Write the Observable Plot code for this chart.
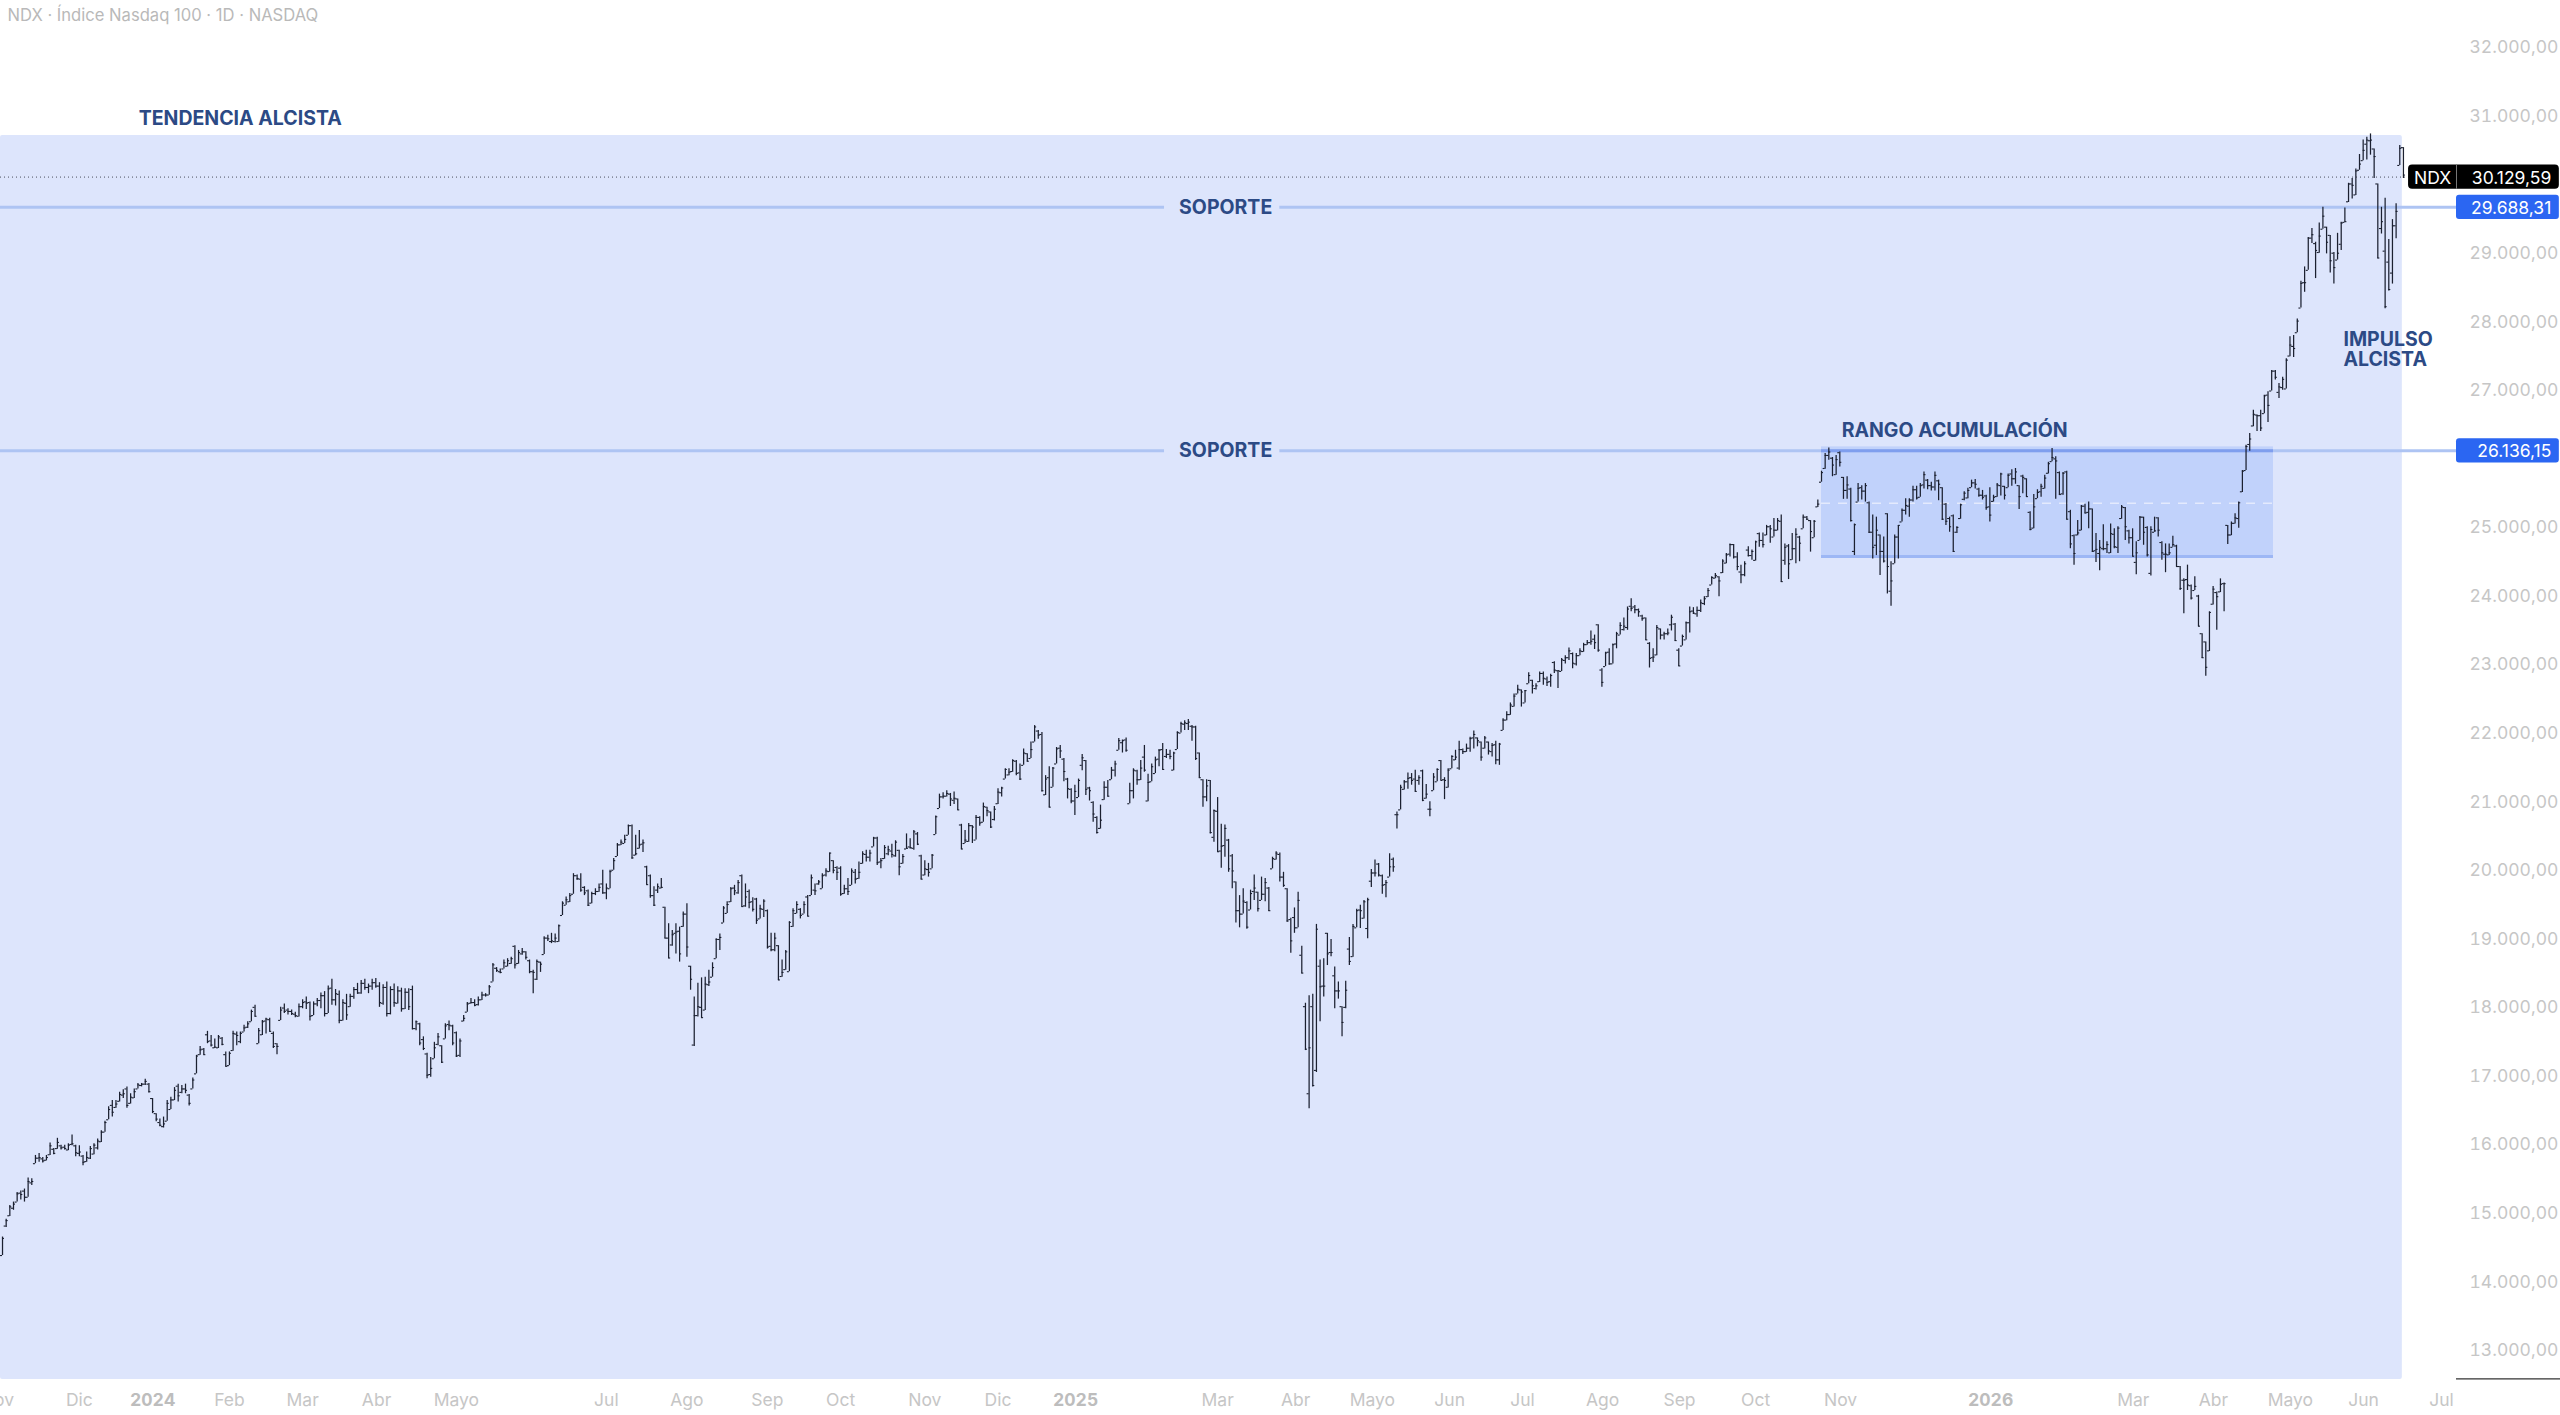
<!DOCTYPE html>
<html lang="es">
<head>
<meta charset="utf-8">
<script src="https://cdn.jsdelivr.net/npm/d3@7"></script>
<script src="https://cdn.jsdelivr.net/npm/@observablehq/plot@0.6"></script>
<style>html,body{margin:0;padding:0;background:#fff;overflow:hidden}svg{display:block}</style>
</head>
<body>
<div id="chart"></div>
<script>
// Daily bars as [open, high, low, close].
const late2023 = [[14370,14640,14370,14620],[14800,14900,14780,14880],[14950,15100,14940,15080],[15060,15150,15030,15120],[15150,15290,15150,15270],[15280,15310,15180,15260],[15310,15340,15150,15220],[15220,15500,15220,15450],[15430,15490,15390,15450],[15710,15830,15710,15790],[15790,15860,15730,15800],[15780,15800,15720,15750],[15760,15830,15750,15800],[15840,16010,15830,15970],[15920,15930,15840,15860],[15930,16080,15920,16020],[15970,15980,15910,15940],[15950,15980,15910,15930],[15910,16000,15900,15980],[15990,16130,15970,16000],[15970,15980,15810,15870],[15860,15970,15810,15880],[15820,15830,15680,15730],[15740,15880,15730,15800],[15790,15960,15770,15930],[15850,16000,15840,15980],[15940,16070,15910,16040],[16030,16190,16020,16170],[16170,16330,16170,16310],[16350,16540,16350,16500],[16560,16630,16390,16460],[16530,16630,16520,16580],[16620,16750,16610,16720],[16710,16790,16660,16730],[16800,16830,16520,16560],[16590,16730,16580,16680],[16670,16800,16660,16760],[16800,16880,16800,16860],[16850,16880,16830,16870],[16870,16940,16850,16910],[16870,16880,16740,16760]];
const early2024 = [[16660,16660,16440,16470],[16440,16440,16320,16360],[16310,16360,16250,16270],[16250,16390,16230,16290],[16330,16630,16330,16590],[16500,16680,16500,16640],[16640,16820,16630,16780],[16840,16870,16610,16700],[16750,16850,16730,16800],[16800,16870,16730,16780],[16710,16720,16550,16590],[16800,16960,16800,16930],[17020,17290,17020,17280],[17300,17420,17290,17370],[17380,17390,17290,17300],[17590,17640,17460,17490],[17500,17580,17410,17440],[17400,17530,17390,17410],[17400,17580,17390,17560],[17540,17550,17430,17450],[17300,17340,17120,17130],[17140,17340,17140,17320],[17360,17640,17350,17610],[17600,17630,17430,17580],[17490,17630,17460,17610],[17630,17730,17630,17690],[17700,17780,17680,17750],[17780,17950,17780,17930],[17990,18020,17850,17860],[17460,17680,17460,17650],[17590,17800,17580,17780],[17790,17830,17600,17820],[17810,17830,17630,17640],[17610,17630,17390,17420],[17460,17460,17300,17420],[17800,17990,17800,17950],[17980,18040,17900,17930],[17950,17970,17880,17930],[17930,17950,17870,17900],[17890,17920,17840,17870],[17860,18040,17850,18000],[18000,18100,17970,18060],[18070,18140,17960,18050],[18060,18070,17790,17860],[17870,18070,17870,18040],[18040,18120,18000,18090],[18090,18200,17970,18160],[18160,18220,17850,17900],[17900,18300,17900,18260],[18270,18400,18020,18100],[18100,18250,18010,18190],[18180,18230,17750,17800],[17800,18100,17790,18060],[18050,18180,17800,17880],[18000,18180,17990,18150],[18150,18280,18110,18250],[18250,18340,18180,18200],[18200,18380,18180,18340],[18340,18400,18240,18280],[18280,18330,18190,18300],[18300,18400,18240,18350],[18350,18410,18270,18300],[18300,18350,17990,18060],[18050,18320,18020,18280],[18280,18360,17850,17900],[17900,18290,17880,18250],[18250,18330,17990,18060],[18050,18290,18040,18230],[18230,18270,17920,17970],[17970,18260,17960,18210],[18210,18260,17945,18000],[18250,18300,17660,17680],[17680,17790,17650,17780],[17750,17760,17430,17470],[17520,17560,17360,17390],[17310,17320,16950,17000],[17010,17260,16970,17100],[17240,17480,17240,17400],[17450,17610,17430,17560],[17430,17430,17170,17190],[17530,17750,17530,17720],[17740,17790,17650,17730],[17720,17730,17430,17470],[17620,17630,17260,17280],[17290,17530,17260,17500],[17790,17870,17780,17830],[17920,18060,17920,18040],[18050,18120,18040,18060]];
const mid2024 = [[18060,18100,18000,18020],[18030,18140,18010,18100],[18100,18210,18090,18170],[18170,18190,18140,18170],[18170,18310,18165,18290],[18360,18630,18360,18610],[18560,18570,18500,18530],[18510,18550,18480,18500],[18550,18680,18550,18640],[18590,18700,18580,18670],[18630,18720,18620,18700],[18880,18890,18550,18610],[18630,18820,18620,18790],[18770,18850,18750,18800],[18800,18800,18680,18720],[18670,18680,18480,18510],[18510,18530,18190,18500],[18400,18680,18380,18660],[18650,18650,18500,18620],[18760,19020,18760,19000],[19000,19040,18950,18990],[18950,19070,18920,18960],[18950,19060,18930,19000],[18950,19190,18940,19180],[19330,19530,19330,19510],[19480,19600,19480,19560],[19530,19650,19520,19620],[19640,19940,19640,19910],[19910,19920,19840,19870],[19860,19940,19670,19700],[19740,19750,19620,19660],[19690,19700,19460,19480],[19510,19670,19500,19650],[19650,19720,19620,19680],[19680,19790,19670,19740],[19790,19990,19640,19660],[19660,19790,19560,19730],[19720,19990,19720,19970],[19990,20160,19990,20130],[20190,20380,20190,20360],[20360,20430,20350,20400],[20380,20500,20380,20440],[20500,20650,20500,20640],[20640,20650,20150,20170],[20210,20500,20200,20230],[20310,20570,20300,20360],[20370,20430,20250,20390],[20040,20050,19770,19780],[19910,19920,19580,19620],[19620,19750,19460,19480],[19700,19790,19650,19750],[19730,19870,19720,19740],[19450,19450,18990,19000],[19000,19210,18700,18710],[18900,19110,18880,19050],[19070,19210,18770,19090],[19100,19160,18650,18770],[19170,19380,19160,19350],[19350,19500,18720,18870],[18590,18590,18240,18400],[17440,18140,17420,17870],[17870,18340,17850,18000],[17990,18420,17830,17840],[17950,18430,17945,18330],[18320,18530,18295,18360],[18430,18640,18430,18570],[18700,18990,18700,18980],[18980,19060,18820,19010],[19220,19460,19220,19440],[19360,19530,19360,19490],[19530,19740,19520,19720],[19730,19770,19620,19690],[19660,19840,19640,19810],[19910,19920,19450,19460],[19470,19790,19450,19600],[19680,19700,19430,19520],[19530,19590,19380,19420],[19570,19580,19200,19260],[19280,19480,19280,19430],[19420,19560,19300,19540],[19400,19410,18840,18870],[18880,19070,18800,18830],[18830,19070,18800,19000],[18890,18890,18380,18390],[18440,18680,18430,18500],[18540,18820,18530,18800],[18510,19240,18510,19230],[19170,19430,19160,19400],[19360,19530,19355,19490],[19420,19430,19280,19330],[19350,19530,19350,19490],[19600,19620,19310,19320],[19620,19920,19620,19880],[19700,19790,19620,19690],[19790,19840,19770,19820],[19720,19940,19720,19910],[19920,20010,19890,19980],[19970,20240,19960,20240],[20130,20130,19940,19990],[20030,20040,19840,19960],[20020,20040,19610,19640],[19650,19770,19640,19720],[19720,19870,19620,19680],[19770,20010,19770,19980],[19960,20000,19790,19860],[19870,20110,19860,19960]];
const late2024 = [[20090,20260,20080,20230],[20220,20280,20110,20180],[20180,20280,20110,20240],[20330,20470,20330,20460],[20460,20470,20060,20100],[20110,20160,20010,20130],[20160,20350,20150,20320],[20230,20340,20200,20290],[20270,20370,20170,20220],[20200,20420,20180,20400],[20280,20280,19910,20040],[20090,20220,20080,20190],[20300,20520,20300,20310],[20330,20450,20300,20320],[20310,20570,20280,20550],[20520,20540,20350,20370],[20200,20210,19850,19860],[19920,20130,19910,20010],[20000,20090,19890,19960],[20010,20220,20010,20210],[20510,20780,20510,20770],[20890,21100,20890,21060],[21060,21120,21030,21070],[21070,21150,21060,21110],[21100,21110,20920,21030],[21010,21130,20950,21040],[21030,21030,20860,20870],[20650,20660,20290,20300],[20380,20570,20380,20430],[20410,20670,20400,20640],[20640,20640,20380,20620],[20430,20790,20430,20760],[20760,20770,20630,20680],[20690,20970,20690,20920],[20910,20910,20770,20860],[20840,20840,20600,20620],[20730,20920,20710,20880],[20960,21180,20950,21130],[21120,21200,21060,21190],[21320,21470,21320,21460],[21380,21470,21370,21420],[21430,21600,21420,21590],[21580,21590,21370,21400],[21410,21540,21300,21320],[21520,21760,21520,21700],[21690,21690,21570,21580],[21620,21860,21620,21750],[21860,22100,21860,22080],[22020,22030,21900,21960],[21970,22000,21130,21150],[21090,21370,21080,21320],[21340,21500,20900,20910],[21200,21490,21200,21480]];
const early2025 = [[21540,21780,21540,21760],[21770,21810,21620,21730],[21610,21620,21280,21430],[21320,21330,21030,21180],[21170,21180,20960,21000],[21000,21230,20790,21140],[21050,21320,21050,21300],[21520,21680,21440,21630],[21590,21590,21080,21170],[21190,21200,21000,21150],[20980,20990,20690,20810],[20760,20770,20520,20540],[20600,20940,20590,20720],[21020,21280,21010,21200],[21200,21300,21060,21070],[21310,21490,21310,21450],[21450,21580,21350,21540],[21740,21910,21740,21880],[21850,21890,21700,21880],[21890,21920,21710,21740],[20960,21260,20960,21150],[21150,21470,21030,21450],[21440,21450,21230,21310],[21310,21590,21300,21480],[21640,21810,21420,21450],[21000,21390,20990,21270],[21280,21540,21280,21500],[21400,21640,21400,21600],[21610,21750,21500,21740],[21750,21840,21450,21460],[21650,21750,21620,21680],[21680,21740,21600,21650],[21450,21710,21440,21700],[21750,22010,21750,22000],[21990,22150,21990,22130],[22120,22170,22030,22140],[22130,22190,22030,22150],[22090,22100,21870,22080],[22080,22090,21590,21620],[21700,21700,21330,21340],[21310,21310,20910,21060],[21060,21310,20990,21220],[21300,21300,20520,20540],[20470,20870,20400,20860],[20850,21050,20250,20260],[20270,20660,20020,20340],[20350,20650,20180,20600],[20430,20440,19960,20010],[20200,20220,19720,19980],[19820,19820,19220,19400],[19400,19620,19150,19350],[19350,19720,19350,19540],[19520,19530,19130,19160],[19410,19700,19410,19650],[19680,19920,19550,19730],[19670,19670,19380,19430],[19550,19890,19550,19640],[19640,19870,19530,19810],[19730,19740,19390,19400],[20010,20180,20010,20160],[20150,20260,20140,20240],[20220,20240,19820,19890],[19890,19960,19740,19770],[19720,19720,19230,19250],[19270,19290,18780,18960],[19300,19440,19070,19150],[19150,19670,19150,19550],[18750,18880,18480,18490],[18000,18050,17360,17380],[16730,18160,16510,17400],[18000,18180,16830,16850],[17070,19200,17040,19130],[18590,18680,17780,18290],[18300,18700,18140,18300],[19070,19070,18600,18770],[18790,18980,18730,18790],[18450,18580,17970,18230],[18230,18360,18110,18230],[18000,18000,17560,17770],[17990,18370,17970,18240],[18840,19010,18600,18660],[18730,19200,18720,19170],[19150,19420,19150,19400],[19410,19480,19140,19400],[19290,19550,19280,19530],[19140,19580,18990,19560],[19830,20000,19740,19950],[19950,20140,19890,19950],[20080,20090,19890,19920],[19910,19920,19640,19770],[19780,19840,19590,19810],[19890,20230,19890,20040],[20150,20170,19960,20040],[20800,20840,20590,20800],[20870,21230,20870,21200],[21170,21300,21160,21280],[21280,21410,21170,21330],[21340,21400,21230,21300],[21320,21450,21130,21140],[21300,21370,21230,21340],[21440,21450,20990,21010],[21040,21240,21030,21100],[20880,20990,20770,20880],[21150,21400,21150,21350],[21280,21470,21280,21460],[21590,21590,21300,21300],[21310,21340,21020,21300],[21200,21470,21190,21450],[21470,21660,21470,21650],[21600,21740,21590,21640],[21480,21870,21450,21750],[21750,21760,21680,21720],[21720,21830,21710,21770],[21770,21930,21710,21910],[21920,22020,21760,21970],[21920,21920,21790,21880],[21860,21860,21580,21640],[21770,21940,21760,21920],[21860,21860,21670,21730],[21720,21840,21640,21810],[21820,21870,21530,21600],[21600,21840,21520,21830]];
const late2025 = [[22030,22200,22030,22180],[22180,22300,22170,22260],[22260,22430,22250,22400],[22380,22560,22370,22530],[22560,22690,22560,22630],[22620,22620,22370,22590],[22430,22610,22430,22610],[22710,22870,22710,22830],[22760,22760,22560,22680],[22640,22710,22620,22680],[22740,22880,22730,22860],[22860,22880,22690,22790],[22780,22810,22670,22730],[22740,22850,22660,22830],[23020,23030,22860,22910],[22900,22900,22640,22900],[22890,23080,22890,23060],[23050,23120,23000,23090],[23090,23230,23050,23190],[23150,23160,22930,23010],[23000,23150,22970,23120],[23120,23220,23120,23190],[23180,23300,23170,23280],[23280,23340,23270,23310],[23310,23480,23270,23330],[23360,23420,23210,23310],[23570,23570,23170,23200],[22910,22930,22660,22730],[22960,23170,22960,23160],[23170,23220,22980,23000],[23000,23290,23000,23280],[23290,23460,23220,23440],[23420,23600,23420,23560],[23500,23670,23480,23550],[23530,23830,23490,23800],[23840,23950,23760,23810],[23830,23850,23730,23790],[23790,23800,23680,23760],[23700,23710,23620,23660],[23670,23670,23340,23350],[23300,23310,22940,23080],[23090,23220,23020,23100],[23130,23560,23120,23530],[23510,23510,23350,23420],[23420,23460,23350,23440],[23440,23510,23410,23450],[23570,23710,23480,23680],[23580,23590,23330,23340],[23200,23220,22960,22970],[23260,23420,23260,23400],[23350,23610,23350,23600],[23600,23830,23450,23760],[23770,23820,23720,23740],[23730,23830,23680,23780],[23780,23930,23750,23890],[23880,23980,23850,23950],[23980,24100,23970,24070],[24150,24270,24150,24260],[24250,24320,24240,24290],[24270,24270,23980,24210],[24330,24520,24320,24500],[24470,24610,24460,24590],[24600,24750,24560,24740],[24740,24740,24530,24560],[24560,24620,24360,24420],[24340,24440,24170,24300],[24300,24490,24270,24460],[24660,24710,24560,24580],[24580,24660,24510,24640],[24510,24790,24500,24780],[24900,24910,24700,24800],[24800,24910,24690,24740],[24880,25020,24870,25000],[25000,25020,24760,24970],[24850,25120,24850,24950],[24950,25120,24940,25090],[25080,25170,24190,24200],[24510,24750,24440,24700],[24720,24740,24230,24460],[24520,24900,24510,24680],[24680,24970,24460,24890],[24850,24860,24490,24760],[24970,25170,24970,25140],[25140,25150,25090,25110],[25090,25090,24630,24930],[24840,25090,24840,25080]];
const rangeBars = [[25290,25390,25280,25330],[25650,25810,25650,25790],[25850,26070,25840,26040],[26040,26150,25970,26090],[26000,26010,25730,25900],[25760,26040,25750,25980],[26080,26090,25870,25940],[25720,25720,25400,25530],[25530,25730,25400,25610],[25550,25560,25070,25090],[24640,25040,24580,25030],[25360,25630,25360,25560],[25570,25600,25390,25520],[25520,25630,25360,25600],[25350,25360,24900,24920],[24920,25170,24530,24700],[24730,25140,24580,24950],[24880,24880,24290,24640],[24640,24850,24470,24500],[25190,25190,24020,24420],[24060,24490,23840,24210],[24460,24880,24460,24850],[24850,25020,24530,25020],[25070,25260,25070,25240],[25240,25410,25170,25310],[25300,25410,25140,25390],[25390,25590,25360,25540],[25540,25590,25390,25420],[25430,25630,25430,25600],[25610,25800,25550,25760],[25680,25690,25540,25600],[25600,25650,25520,25580],[25580,25800,25520,25750],[25670,25680,25380,25620],[25570,25570,25090,25110],[25330,25340,25020,25080],[25120,25140,24920,25000],[25160,25170,24630,24640],[24920,25000,24900,24990],[25120,25330,25110,25320],[25400,25510,25380,25490],[25420,25560,25410,25530],[25570,25680,25570,25640],[25640,25690,25550,25620],[25550,25560,25430,25460],[25460,25530,25390,25430],[25450,25460,25240,25280],[25290,25570,25070,25170],[25370,25460,25360,25430],[25440,25630,25430,25610],[25600,25780,25450,25770],[25590,25590,25390,25460],[25570,25770,25570,25750],[25770,25830,25590,25700],[25700,25850,25620,25800],[25600,25600,25250,25440],[25740,25750,25480,25720],[25700,25700,25430,25440],[25210,25220,24940,24960],[24980,25470,24970,25290],[25410,25540,25410,25500],[25510,25620,25430,25590],[25560,25750,25550,25710],[25780,25940,25770,25920],[25950,26140,25950,26010],[25990,26020,25400,25960],[25790,25800,25460,25470],[25480,25790,25460,25780],[25800,25810,25100,25110],[25220,25240,24680,24750],[24870,24880,24440,24610],[24880,25090,24870,24910],[24950,25310,24940,25300],[25300,25330,25190,25200],[25210,25360,24970,25260],[25260,25260,24630,24640],[24650,24900,24480,24670],[24610,24800,24360,24700],[24680,25030,24650,24680],[24680,24780,24610,24740],[24620,25040,24610,24900],[24890,24970,24680,24710],[24700,25000,24610,24980],[25120,25310,25110,25290],[25280,25280,24800,25000],[24940,24950,24750,24840],[24840,24970,24560,24570],[24480,24780,24300,24620],[24800,25150,24800,25140],[25140,25140,24730,24920],[24990,25000,24560,24590],[24320,25000,24280,24960],[24920,25140,24920,24940],[25130,25130,24850,24950],[24770,24780,24510,24620],[24600,24750,24330,24600],[24590,24750,24580,24620],[24700,24860,24700,24740],[24720,24730,24410,24420],[24420,24420,24070,24100],[24220,24240,23730,24220],[24230,24440,24070,24150],[24140,24150,23930,23960],[24070,24270,24070,24130],[23990,24000,23540,23550],[23440,23440,23080,23090],[23320,23320,22820,22950],[23190,23760,23180,23750],[23870,24130,23860,24090],[24040,24050,23490,23980],[24050,24240,24040,24160],[24170,24180,23760,24170],[25020,25020,24740,24880],[24880,25070,24870,25050],[25050,25190,25040,25130],[25120,25360,24980,25350],[25510,25820,25500,25810],[25820,26190,25820,26170],[26200,26360,26100,26280]];
const impulse2026 = [[26470,26700,26460,26640],[26630,26630,26390,26620],[26620,26700,26390,26440],[26650,26920,26650,26910],[26920,26970,26520,26770],[26980,27280,26980,27270],[27270,27280,27140,27180],[26960,27090,26870,27040],[27030,27180,26990,27150],[27010,27450,27010,27430],[27490,27770,27480,27650],[27630,27790,27470,27600],[27830,28030,27830,28000],[28190,28580,28190,28550],[28560,28790,28420,28560],[28740,29220,28740,29210],[29210,29350,29130,29260],[29130,29150,28620,29030],[29000,29430,28990,29240],[29340,29660,29340,29530],[29370,29370,28980,29150],[29250,29250,28700,28880],[28990,29000,28540,28780],[28890,29280,28890,28990],[29120,29440,29030,29430],[29440,29650,29440,29450],[29740,30010,29730,30000],[30000,30080,29780,29980],[29840,30220,29830,30190],[30200,30430,30200,30290],[30340,30640,30340,30490],[30580,30680,30350,30640],[30630,30730,30420,30640],[30510,30510,30080,30400],[30000,30000,28910,28920],[29350,29660,29270,29450],[29020,29790,28180,28210],[28860,29190,28440,28460],[28700,29480,28540,29390],[29390,29710,29200,29600],[30270,30560,30270,30520],[30530,30530,30080,30129.59]];

const monthLabels = ["Nov","Dic","Feb","Mar","Abr","Mayo","Jul","Ago","Sep","Oct","Nov","Dic","Mar","Abr","Mayo","Jun","Jul","Ago","Sep","Oct","Nov","Mar","Abr","Mayo","Jun","Jul"];
const monthBars = [-1.4,21,62,82,102.2,124,165,187,209,229,252,272,332,353.3,374.3,395.4,415.3,437.2,458.2,479,502.2,582.2,604.1,625.1,645.1,666.4];
const yearLabels = ["2024","2025","2026"];
const yearBars = [41,293.2,543.2];
const priceTicks = [13000,14000,15000,16000,17000,18000,19000,20000,21000,22000,23000,24000,25000,27000,28000,29000,31000,32000];

const lastPrice = 30129.59;
const supports = [29688.31, 26136.15];
const rangeTop = 26136.15, rangeBottom = 24566, rangeMid = 25343;
const trendBox = {x1:-0.55, x2:655.7, y1:12562, y2:30708};
const rangeBox = {x1:497, x2:620.5, y1:rangeBottom, y2:26165};
const xMin = -0.55, xMax = 670.5, tagLeft = 657.4, tagRight = 698.6;

const bars = [late2023, early2024, mid2024, late2024, early2025, late2025, rangeBars, impulse2026]
  .flat().map(([o,h,l,c], i) => ({i,o,h,l,c}));

const esNumber = d3.formatLocale({decimal:",",thousands:".",grouping:[3]}).format(",.2f");
const monthText = new Map(monthBars.map((b,i)=>[b,monthLabels[i]]));
const yearText = new Map(yearBars.map((b,i)=>[b,yearLabels[i]]));
const ink = "#2c4a85", tick = "#c6c6c6", barInk = "#1b2030", lineBlue = "#aec4f3";
const noteFont = {fontSize:19.5, fontWeight:700, fill:ink};

const chart = Plot.plot({
  width:2560, height:1415, marginTop:0, marginLeft:0, marginRight:104, marginBottom:36,
  style:{background:"#fff", fontFamily:"Inter, sans-serif", fontSize:"17.5px"},
  x:{domain:[xMin,xMax], axis:null},
  y:{domain:[12562,32676], axis:null},
  marks:[
    Plot.rect([trendBox],{x1:"x1",x2:"x2",y1:"y1",y2:"y2",fill:"#dde5fc",rx:2}),
    Plot.rect([rangeBox],{x1:"x1",x2:"x2",y1:"y1",y2:"y2",fill:"#c1d2fb"}),
    Plot.ruleY([lastPrice],{x1:xMin,x2:xMax,dy:2,stroke:"#4a4f5c",strokeWidth:1,strokeDasharray:"1 3"}),
    Plot.ruleY(supports,{x1:xMin,x2:317.5,dy:2,stroke:lineBlue,strokeWidth:3}),
    Plot.ruleY(supports,{x1:349,x2:xMax,dy:2,stroke:lineBlue,strokeWidth:3}),
    Plot.ruleY([rangeTop],{x1:rangeBox.x1,x2:rangeBox.x2,dy:2,stroke:"#7f9eee",strokeWidth:3}),
    Plot.ruleY([rangeBottom],{x1:rangeBox.x1,x2:rangeBox.x2,stroke:"#9db7f5",strokeWidth:3}),
    Plot.ruleY([rangeMid],{x1:rangeBox.x1,x2:rangeBox.x2,stroke:"#e4eafd",strokeWidth:1.5,strokeDasharray:"9 8"}),
    Plot.ruleX(bars,{x:"i",y1:"l",y2:"h",stroke:barInk,strokeWidth:1.25}),
    Plot.ruleY(bars,{y:"o",x1:d=>d.i-0.55,x2:"i",stroke:barInk,strokeWidth:1.1}),
    Plot.ruleY(bars,{y:"c",x1:"i",x2:d=>d.i+0.55,stroke:barInk,strokeWidth:1.1}),
    Plot.ruleY([12570],{x1:xMax,x2:tagRight+2,stroke:"#333",strokeWidth:1.2}),
    Plot.text(["TENDENCIA ALCISTA"],{x:37.2,y:30955,textAnchor:"start",...noteFont}),
    Plot.text(["RANGO ACUMULACIÓN"],{x:502.5,y:26404,textAnchor:"start",...noteFont}),
    Plot.text(["IMPULSO\nALCISTA"],{x:639.6,y:27579,textAnchor:"start",lineHeight:1,...noteFont}),
    Plot.text(supports,{x:334.2,y:d=>d,dy:2,text:()=>"SOPORTE",...noteFont}),
    Plot.text(["NDX · Índice Nasdaq 100 · 1D · NASDAQ"],{frameAnchor:"top-left",dx:7,dy:9,fill:"#b9b9b9",fontSize:16.6}),
    Plot.axisY({anchor:"right",ticks:priceTicks,tickFormat:esNumber,tickSize:0,tickPadding:13,dy:1,color:tick,label:null}),
    Plot.axisX({anchor:"bottom",ticks:monthBars,tickFormat:d=>monthText.get(d),tickSize:0,tickPadding:14,color:tick,label:null}),
    Plot.axisX({anchor:"bottom",ticks:yearBars,tickFormat:d=>yearText.get(d),tickSize:0,tickPadding:14,color:"#bdbdbd",fontWeight:700,label:null}),
    Plot.rect(supports,{x1:xMax,x2:tagRight,y1:d=>d-178,y2:d=>d+178,dy:2,fill:"#2b66f2",rx:3}),
    Plot.text(supports,{x:tagRight-2.2,y:d=>d,dy:3,text:d=>esNumber(d),textAnchor:"end",fill:"#fff",fontSize:17.5}),
    Plot.rect([lastPrice],{x1:tagLeft,x2:tagRight,y1:d=>d-178,y2:d=>d+178,dy:2,fill:"#000",rx:4}),
    Plot.ruleX([xMax],{y1:lastPrice-178,y2:lastPrice+178,dy:2,stroke:"#777"}),
    Plot.text(["NDX"],{x:(tagLeft+xMax)/2,y:lastPrice,dy:3,fill:"#fff",fontSize:17.5}),
    Plot.text([lastPrice],{x:tagRight-2.2,y:lastPrice,dy:3,text:d=>esNumber(d),textAnchor:"end",fill:"#fff",fontSize:17.5})
  ]
});
document.getElementById("chart").append(chart);
</script>
</body>
</html>
